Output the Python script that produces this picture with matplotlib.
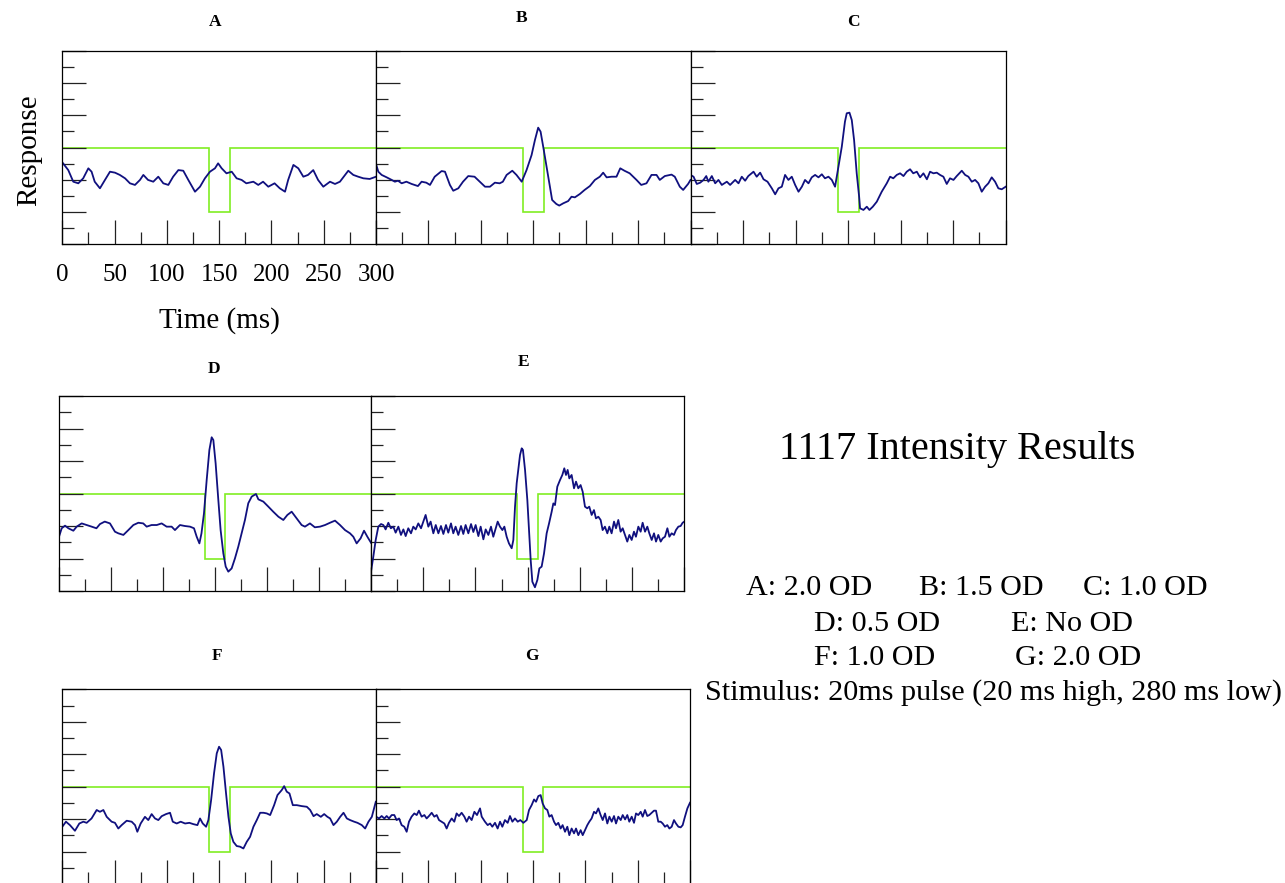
import matplotlib
matplotlib.use('Agg')
import matplotlib.pyplot as plt
from matplotlib.ticker import MultipleLocator

plt.rcParams['font.family'] = ['Liberation Serif', 'DejaVu Serif']

# stimulus (same in every panel)
stim_edges = [0, 140, 160, 300]
stim_levels = [0.6, 0.2, 0.6]

# A: 2.0 OD
t_a = [0, 5.7, 10.5, 15.3, 20, 24.9, 28, 31, 36, 40.8, 45.6, 50.4, 55, 60, 64.7, 69.5, 74.3, 77.5, 82, 87,
       91.8, 96.6, 101.4, 106, 111, 115.7, 120.5, 126.9, 131.7, 136.4, 141.2, 146, 149, 152.4, 157, 162,
       166.7, 171.5, 176, 182.7, 187.4, 192, 197, 203, 208, 213, 216, 221, 225.7, 230.5, 235, 240, 244.6,
       249.6, 256, 260.8, 265.5, 273.5, 278.3, 283, 287.9, 294, 300]
y_a = [0.508, 0.46, 0.388, 0.378, 0.409, 0.471, 0.45, 0.388, 0.347, 0.399, 0.45, 0.444, 0.43, 0.409, 0.378,
       0.368, 0.399, 0.43, 0.399, 0.388, 0.419, 0.378, 0.368, 0.419, 0.46, 0.456, 0.399, 0.326, 0.357, 0.409,
       0.45, 0.471, 0.502, 0.471, 0.44, 0.45, 0.409, 0.399, 0.378, 0.388, 0.368, 0.388, 0.357, 0.378, 0.347,
       0.326, 0.399, 0.492, 0.471, 0.419, 0.43, 0.46, 0.399, 0.357, 0.388, 0.374, 0.388, 0.456, 0.43, 0.419,
       0.409, 0.405, 0.419]

# B: 1.5 OD
t_b = [0, 2.2, 5.4, 10.2, 15, 18, 21, 24.5, 29, 34, 40, 43.5, 48, 51.5, 56, 62.6, 65.8, 70.5, 73.7, 78.5,
       83, 88, 94, 99, 104, 108.7, 113.4, 118, 121, 124.6, 130, 134, 139, 143.6, 148.4, 151.6, 154.7, 157,
       159.5, 162.7, 165.9, 168, 172, 174.8, 178.6, 183.3, 186.5, 189.7, 194.5, 199, 204, 208.8, 213.5,
       216.7, 220, 224.7, 229.4, 233, 237, 242, 248.5, 253, 258, 262.8, 267.6, 270.7, 275.5, 281.9, 285,
       289.8, 293, 297.7, 300]
y_b = [0.498, 0.45, 0.43, 0.415, 0.399, 0.388, 0.394, 0.378, 0.388, 0.374, 0.361, 0.388, 0.382, 0.368,
       0.419, 0.454, 0.45, 0.368, 0.332, 0.347, 0.388, 0.423, 0.419, 0.388, 0.357, 0.357, 0.382, 0.378,
       0.388, 0.43, 0.456, 0.43, 0.388, 0.46, 0.553, 0.646, 0.723, 0.698, 0.605, 0.481, 0.357, 0.275, 0.25,
       0.24, 0.254, 0.268, 0.295, 0.291, 0.312, 0.337, 0.361, 0.399, 0.419, 0.444, 0.415, 0.419, 0.419,
       0.471, 0.456, 0.44, 0.399, 0.368, 0.378, 0.43, 0.43, 0.399, 0.423, 0.432, 0.419, 0.357, 0.337, 0.374,
       0.399]

# C: 1.0 OD
t_c = [0, 2.9, 6, 9.2, 12.4, 15, 17, 20.3, 23.5, 26.6, 29.8, 34.6, 37.7, 42.5, 45.7, 48.8, 52, 55, 60, 63,
       66.3, 69.5, 73.3, 77.4, 80.6, 83.7, 86.9, 90, 93.2, 96.4, 99.6, 102.8, 106, 109, 112.3, 115.4, 118.6,
       121.8, 125, 128, 131.3, 134.5, 137.6, 140.8, 144, 147, 148.7, 151.3, 153.5, 155.7, 158.2, 160.5,
       161.4, 164.6, 167.8, 170.3, 173.5, 177.3, 182, 186.8, 190, 193, 196.3, 199.5, 202.7, 205.8, 209, 212,
       215.4, 218.5, 221.7, 225, 228, 231.2, 234.4, 237.5, 240.7, 243.9, 247, 250.3, 253.4, 258.2, 261.4,
       264.5, 267.7, 270.9, 274, 277.2, 280.4, 283.5, 286.7, 289.9, 293, 296.2, 300]
y_c = [0.43, 0.419, 0.374, 0.382, 0.399, 0.423, 0.388, 0.423, 0.378, 0.399, 0.368, 0.388, 0.368, 0.399,
       0.378, 0.419, 0.394, 0.423, 0.45, 0.419, 0.444, 0.403, 0.388, 0.347, 0.31, 0.347, 0.357, 0.43, 0.399,
       0.419, 0.368, 0.326, 0.357, 0.399, 0.378, 0.415, 0.43, 0.415, 0.434, 0.409, 0.419, 0.399, 0.357,
       0.481, 0.605, 0.76, 0.812, 0.816, 0.77, 0.646, 0.44, 0.295, 0.223, 0.213, 0.233, 0.213, 0.233, 0.264,
       0.326, 0.378, 0.419, 0.409, 0.43, 0.44, 0.423, 0.45, 0.465, 0.44, 0.45, 0.415, 0.44, 0.403, 0.45,
       0.44, 0.444, 0.43, 0.419, 0.374, 0.409, 0.399, 0.423, 0.456, 0.43, 0.419, 0.388, 0.399, 0.378, 0.326,
       0.357, 0.378, 0.415, 0.388, 0.347, 0.341, 0.357]

# D: 0.5 OD
t_d = [0, 2.6, 5.8, 9, 13.8, 17, 21.8, 26.6, 31.4, 36, 39.4, 44, 49, 53.8, 57, 61.9, 66.7, 71.5, 76.3, 81,
       84.3, 89, 94, 98.7, 103.5, 108.3, 111.5, 116.3, 121, 126, 129.8, 132.4, 135, 137, 139.4, 142, 144.6,
       146.8, 148.4, 150.6, 153.2, 155.4, 158, 160.3, 162.8, 166, 169.2, 172.4, 175.6, 178.8, 182, 185.3,
       189.4, 191.7, 196.5, 201.3, 206, 211, 215.7, 219.6, 223.7, 228.5, 233.3, 236.5, 241.3, 246, 251,
       255.8, 260.6, 265.4, 270.2, 275, 279.8, 283, 286.2, 290, 293.3, 296.5, 300]
y_d = [0.334, 0.386, 0.402, 0.386, 0.371, 0.396, 0.416, 0.406, 0.396, 0.386, 0.412, 0.427, 0.416, 0.365,
       0.355, 0.345, 0.375, 0.406, 0.42, 0.416, 0.396, 0.406, 0.406, 0.416, 0.396, 0.396, 0.375, 0.406, 0.4,
       0.396, 0.386, 0.334, 0.293, 0.355, 0.478, 0.683, 0.868, 0.946, 0.929, 0.786, 0.56, 0.375, 0.232,
       0.15, 0.119, 0.139, 0.201, 0.273, 0.355, 0.437, 0.54, 0.581, 0.597, 0.564, 0.55, 0.519, 0.488, 0.457,
       0.437, 0.468, 0.488, 0.447, 0.406, 0.396, 0.416, 0.392, 0.396, 0.406, 0.42, 0.433, 0.406, 0.375,
       0.355, 0.334, 0.293, 0.324, 0.371, 0.334, 0.297]

# E: No OD
t_e = [0, 2.2, 4.5, 7, 9.6, 11.8, 14, 16.6, 19, 21.4, 23.6, 26.2, 28.7, 31, 33.2, 35.7, 38.3, 40.5, 42.8,
       45.3, 47.9, 50.1, 52.3, 54.9, 57.1, 59.7, 62, 64.5, 67, 69.3, 71.8, 74, 76.6, 78.8, 81, 83.6, 86.2,
       88.4, 90.6, 93.2, 95.8, 98, 100.2, 102.8, 105, 107.6, 109.8, 112.4, 114.9, 117.1, 119.4, 121.3,
       123.5, 125.8, 127.7, 129.9, 132.1, 134.7, 136.3, 137.9, 139.5, 141, 142.7, 144.3, 145.5, 147.5,
       149.7, 151.3, 152.9, 154.5, 157, 159.3, 161.2, 163.4, 165.7, 168.2, 170.5, 173, 174.6, 176.2, 178.4,
       181, 183.2, 185.1, 186.7, 188.3, 189.9, 192.1, 194.4, 196.3, 198.5, 200.7, 202.7, 204.9, 207.1, 209,
       211.3, 213.5, 215.4, 217.7, 219.9, 221.8, 224, 226.3, 228.2, 230.4, 232.7, 234.6, 236.8, 239, 241,
       243.2, 245.4, 247.4, 249.6, 251.8, 253.7, 256, 258.2, 260.1, 262.4, 264.6, 266.5, 268.8, 271, 272.9,
       275.1, 277.4, 279.3, 281.5, 283.8, 285.7, 287.9, 290.1, 292, 294.3, 296.5, 298.4, 300]
y_e = [0.119, 0.211, 0.314, 0.396, 0.412, 0.406, 0.379, 0.42, 0.386, 0.396, 0.359, 0.396, 0.345, 0.379,
       0.338, 0.386, 0.355, 0.396, 0.379, 0.416, 0.386, 0.427, 0.468, 0.396, 0.427, 0.355, 0.406, 0.355,
       0.4, 0.351, 0.406, 0.359, 0.416, 0.355, 0.396, 0.345, 0.4, 0.351, 0.406, 0.355, 0.412, 0.363, 0.406,
       0.338, 0.396, 0.318, 0.379, 0.345, 0.396, 0.334, 0.386, 0.427, 0.396, 0.375, 0.396, 0.334, 0.293,
       0.263, 0.314, 0.519, 0.663, 0.745, 0.837, 0.878, 0.868, 0.745, 0.56, 0.375, 0.191, 0.057, 0.023,
       0.068, 0.139, 0.15, 0.232, 0.355, 0.416, 0.488, 0.539, 0.529, 0.642, 0.683, 0.714, 0.755, 0.714,
       0.745, 0.693, 0.714, 0.632, 0.673, 0.632, 0.652, 0.611, 0.519, 0.509, 0.519, 0.468, 0.498, 0.447,
       0.457, 0.437, 0.375, 0.396, 0.355, 0.396, 0.355, 0.427, 0.386, 0.437, 0.365, 0.386, 0.345, 0.304,
       0.345, 0.314, 0.365, 0.334, 0.396, 0.365, 0.42, 0.365, 0.396, 0.355, 0.314, 0.355, 0.304, 0.345,
       0.304, 0.324, 0.334, 0.386, 0.334, 0.355, 0.345, 0.375, 0.396, 0.4, 0.42, 0.427]

# F: 1.0 OD
t_f = [0, 3.5, 7.3, 12.1, 16.3, 20.1, 23.3, 28, 32.9, 36, 39.3, 42.5, 47.2, 50.4, 53.6, 56.8, 61.6, 66.4,
       69.6, 71.8, 75, 79.1, 82.3, 85.5, 88.7, 91.9, 95.1, 99.3, 103.1, 105.7, 109.5, 113.3, 117.5, 121.6,
       125.4, 129.3, 131.8, 134.4, 137.6, 139.8, 142.4, 145.2, 147.8, 150, 152, 154.2, 156.7, 159, 161.2,
       163.7, 166.9, 170.1, 173.3, 176.5, 179.7, 182.9, 186.1, 189.3, 192.5, 195.7, 198.9, 202.7, 205.9,
       210, 212.3, 214.8, 217.4, 220.6, 224.4, 229.2, 234, 237.2, 240.4, 243.5, 247.4, 250.6, 253.7, 256.3,
       259.5, 262.7, 265.9, 269.1, 272.3, 275.4, 279.3, 282.5, 286.6, 289.8, 293, 296.2, 300]
y_f = [0.353, 0.384, 0.363, 0.328, 0.373, 0.384, 0.377, 0.404, 0.456, 0.445, 0.456, 0.414, 0.384, 0.377,
       0.342, 0.363, 0.39, 0.384, 0.363, 0.322, 0.373, 0.414, 0.394, 0.431, 0.404, 0.394, 0.418, 0.431,
       0.439, 0.384, 0.373, 0.384, 0.373, 0.377, 0.369, 0.363, 0.404, 0.373, 0.353, 0.394, 0.517, 0.682,
       0.805, 0.846, 0.826, 0.723, 0.558, 0.414, 0.312, 0.26, 0.234, 0.23, 0.219, 0.26, 0.291, 0.353, 0.394,
       0.439, 0.439, 0.435, 0.425, 0.486, 0.548, 0.579, 0.603, 0.569, 0.558, 0.486, 0.486, 0.48, 0.476,
       0.456, 0.418, 0.431, 0.414, 0.431, 0.414, 0.404, 0.363, 0.384, 0.414, 0.439, 0.404, 0.394, 0.384,
       0.377, 0.363, 0.342, 0.384, 0.414, 0.507]

# G: 2.0 OD
t_g = [0, 2.9, 5.4, 8, 10.2, 12.4, 15, 17.5, 19.7, 22, 24.5, 27, 29.3, 31.5, 34, 36.6, 38.9, 41, 43.6, 46.2,
       48.4, 50.6, 53.2, 55.7, 58, 60.2, 62.7, 65.3, 67.5, 69.7, 72.3, 74.8, 77, 79.3, 81.8, 84.4, 86.6,
       88.9, 91.4, 94, 96.5, 99.4, 101, 104.1, 106.7, 109, 111.1, 113.7, 116.2, 118.5, 120.7, 123.2, 125.8,
       128, 130.3, 132.8, 135.4, 137.9, 140.8, 144, 146.2, 148.7, 151, 152.9, 155.1, 157.3, 159.2, 161.5,
       163.7, 165.6, 167.8, 170.1, 172, 174.2, 176.4, 178.3, 180.6, 182.8, 184.7, 186.9, 189.2, 191.1,
       193.3, 195.5, 197.5, 199.7, 201.9, 203.8, 206, 208.3, 210.2, 212.4, 214.6, 216.6, 218.8, 221, 223,
       225.2, 227.4, 229.3, 231.5, 233.8, 235.7, 238, 240.1, 242, 244.3, 246.5, 248.4, 250.6, 252.9, 254.8,
       257, 259.2, 261.1, 263.4, 265.6, 267.5, 269.7, 272, 273.9, 276.1, 278.3, 280.3, 282.5, 284.7, 286.6,
       288.9, 291.1, 293, 295.2, 297.5, 300]
y_g = [0.415, 0.404, 0.419, 0.404, 0.419, 0.404, 0.425, 0.425, 0.394, 0.404, 0.363, 0.353, 0.322, 0.384,
       0.415, 0.435, 0.425, 0.452, 0.415, 0.425, 0.404, 0.419, 0.439, 0.415, 0.425, 0.394, 0.384, 0.373,
       0.342, 0.377, 0.404, 0.384, 0.435, 0.419, 0.439, 0.415, 0.384, 0.415, 0.394, 0.445, 0.425, 0.466,
       0.415, 0.384, 0.363, 0.373, 0.353, 0.377, 0.342, 0.384, 0.353, 0.394, 0.377, 0.419, 0.384, 0.404,
       0.384, 0.394, 0.377, 0.394, 0.456, 0.486, 0.521, 0.507, 0.542, 0.548, 0.497, 0.466, 0.456, 0.415,
       0.425, 0.384, 0.363, 0.377, 0.342, 0.363, 0.322, 0.353, 0.301, 0.342, 0.312, 0.342, 0.301, 0.332,
       0.301, 0.332, 0.363, 0.384, 0.404, 0.445, 0.435, 0.466, 0.425, 0.394, 0.435, 0.373, 0.415, 0.384,
       0.419, 0.373, 0.415, 0.394, 0.425, 0.398, 0.425, 0.384, 0.415, 0.377, 0.435, 0.425, 0.445, 0.415,
       0.456, 0.419, 0.425, 0.439, 0.452, 0.452, 0.384, 0.384, 0.373, 0.353, 0.363, 0.342, 0.353, 0.394,
       0.373, 0.353, 0.349, 0.363, 0.415, 0.466, 0.501]

xtick_labels = ['0', '50', '100', '150', '200', '250', '300']
legend_lines = [('A: 2.0 OD', 746, 588), ('B: 1.5 OD', 919, 588), ('C: 1.0 OD', 1083, 588),
                ('D: 0.5 OD', 814, 624), ('E: No OD', 1011, 624),
                ('F: 1.0 OD', 814, 658), ('G: 2.0 OD', 1015, 658),
                ('Stimulus: 20ms pulse (20 ms high, 280 ms low)', 705, 693)]

W, H = 1285, 883
fig = plt.figure(figsize=(W / 100, H / 100), dpi=100)

navy = '#10107f'
green = '#80ee22'

# (name, t, y, box left/top/right/bottom in px, title position in px)
panels = [('A', t_a, y_a, (62.3, 50.7, 376, 244.3), (215, 22)),
          ('B', t_b, y_b, (376, 50.7, 690.5, 244.3), (522, 18)),
          ('C', t_c, y_c, (690.5, 50.7, 1005.7, 244.3), (853, 22)),
          ('D', t_d, y_d, (59, 396, 371, 591), (214, 369)),
          ('E', t_e, y_e, (371, 396, 684.3, 591), (524, 362)),
          ('F', t_f, y_f, (62.3, 689.3, 375.8, 884), (217, 656)),
          ('G', t_g, y_g, (376, 689.3, 690, 884), (532, 656))]

for name, t, y, (x0, y0, x1, y1), (tx, ty) in panels:
    ax = fig.add_axes([x0 / W, 1 - y1 / H, (x1 - x0) / W, (y1 - y0) / H])
    ax.stairs(stim_levels, stim_edges, baseline=None, color=green, lw=1.2)
    ax.plot(t, y, color=navy, lw=1.3)
    ax.set_xlim(0, 300)
    ax.set_ylim(0, 1.2)
    ax.xaxis.set_major_locator(MultipleLocator(50))
    ax.xaxis.set_minor_locator(MultipleLocator(25))
    ax.yaxis.set_major_locator(MultipleLocator(0.2))
    ax.yaxis.set_minor_locator(MultipleLocator(0.1))
    ax.tick_params(which='both', direction='in', top=False, right=False, labelleft=False,
                   labelbottom=(name == 'A'), color='#222222', width=0.9)
    ax.tick_params(which='major', length=17.5)
    ax.tick_params(which='minor', length=8.5)
    for s in ax.spines.values():
        s.set_linewidth(0.9)
    if name == 'A':
        ax.set_xticks([0, 50, 100, 150, 200, 250, 300])
        ax.set_xticklabels(xtick_labels, fontsize=18)
        ax.tick_params(axis='x', which='major', pad=14)
    fig.text(tx / W, 1 - ty / H, name, ha='center', va='center', fontsize=12.5, fontweight='bold')

fig.text(219.5 / W, 1 - 321 / H, 'Time (ms)', ha='center', va='center', fontsize=21)
fig.text(29 / W, 1 - 150 / H, 'Response', ha='center', va='center', fontsize=21, rotation=90)
fig.text(957 / W, 1 - 449 / H, '1117 Intensity Results', ha='center', va='center', fontsize=29)
for txt, lx, ly in legend_lines:
    fig.text(lx / W, 1 - ly / H, txt, ha='left', va='center', fontsize=21.7)

fig.savefig('out.png', dpi=100)
